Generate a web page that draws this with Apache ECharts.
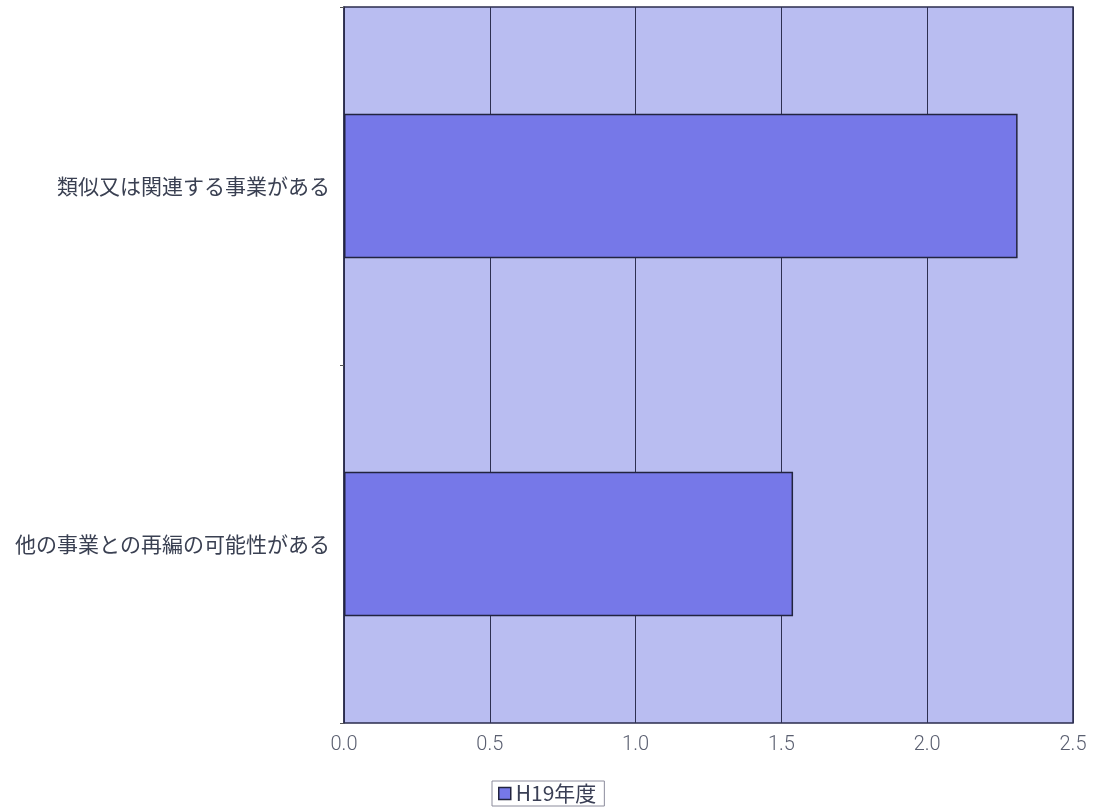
<!DOCTYPE html>
<html>
<head>
<meta charset="utf-8">
<script src="https://cdn.jsdelivr.net/npm/echarts@6/dist/echarts.min.js"></script>
<style>
  html, body { margin: 0; padding: 0; background: #ffffff; }
  #chart { width: 1101px; height: 811px; }
</style>
</head>
<body>
<div id="chart"></div>
<script>
// Categories listed bottom-to-top (category axis on y grows upward)
const categories = ['他の事業との再編の可能性がある', '類似又は関連する事業がある'];
const seriesName = 'H19年度';
const values = [1.54, 2.31];
const xTicks = { min: 0, max: 2.5, interval: 0.5 };

const chart = echarts.init(document.getElementById('chart'));
chart.setOption({
  animation: false,
  backgroundColor: '#ffffff',
  grid: {
    left: 344, right: 28, top: 7, bottom: 88,
    show: true,
    backgroundColor: '#b9bdf1',
    borderColor: '#2b2d4e',
    borderWidth: 1.5
  },
  legend: {
    data: [seriesName],
    bottom: 5,
    left: 492,
    icon: 'rect',
    itemWidth: 12,
    itemHeight: 12,
    itemGap: 4,
    padding: [2, 8, 2, 6],
    borderColor: '#8c8c9c',
    borderWidth: 1,
    itemStyle: { borderColor: '#22243f', borderWidth: 1.5 },
    textStyle: { fontFamily: 'Noto Sans CJK JP', fontSize: 21, color: '#3a3f55' }
  },
  xAxis: {
    type: 'value',
    min: xTicks.min, max: xTicks.max, interval: xTicks.interval,
    axisLine: { show: false },
    axisTick: { show: false },
    splitLine: { show: true, lineStyle: { color: '#2e3052', width: 1 } },
    axisLabel: {
      margin: 12,
      fontFamily: 'Roboto',
      fontWeight: 300,
      fontSize: 20,
      color: '#5a5f70',
      formatter: v => v.toFixed(1)
    }
  },
  yAxis: {
    type: 'category',
    data: categories,
    axisLine: { show: true, lineStyle: { color: '#2b2d4e', width: 1.5 } },
    axisTick: { show: true, length: 4, lineStyle: { color: '#555' } },
    axisLabel: {
      margin: 14,
      fontFamily: 'Noto Sans CJK JP',
      fontSize: 21,
      color: '#3a4052'
    }
  },
  series: [{
    name: seriesName,
    type: 'bar',
    data: values,
    barWidth: '40.3%',
    itemStyle: {
      color: '#7678e8',
      borderColor: '#22243f',
      borderWidth: 1.5
    }
  }]
});
</script>
</body>
</html>
